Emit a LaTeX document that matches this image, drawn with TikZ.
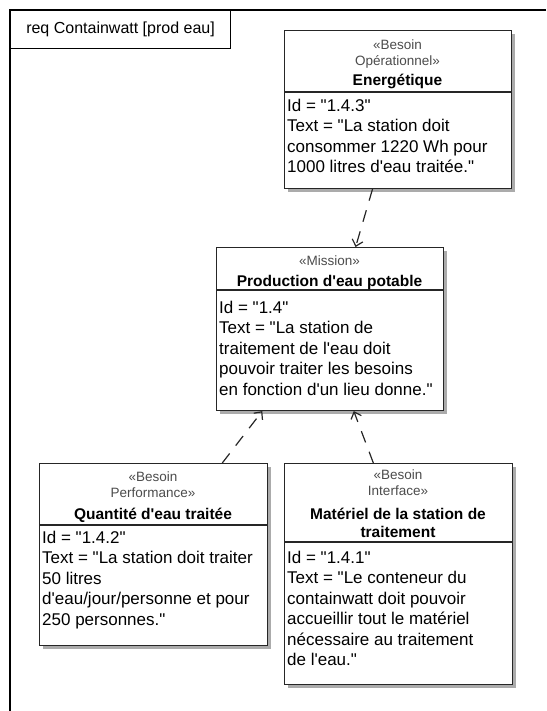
\documentclass[tikz,border=0pt]{standalone}
\usepackage{fontspec}
\newfontfamily\arial{Liberation Sans}
\usetikzlibrary{arrows.meta,shadows,calc}
\begin{document}
\begin{tikzpicture}[x=1pt,y=-1pt,
  font=\arial,
  frameline/.style={line width=1.4pt, black},
  boxpart/.style={draw=black!85, line width=1.1pt, fill=white, inner sep=0pt, anchor=north west},
  shadowed/.style={drop shadow={shadow xshift=3pt, shadow yshift=-3pt, opacity=0.6, fill=black!55}},
  sepline/.style={draw=black!85, line width=1.1pt},
  stereo/.style={inner sep=0pt, text=black!70, font=\arial\fontsize{13.5}{15}\selectfont},
  cname/.style={inner sep=0pt, font=\arial\bfseries\fontsize{15.5}{18}\selectfont},
  bodytext/.style={align=left, anchor=north west, inner sep=0pt, font=\arial\fontsize{17}{20.4}\selectfont},
  deriv/.style={draw=black!85, line width=1.2pt, dash pattern=on 12pt off 10pt, -{Straight Barb[length=6pt,width=11pt,line width=1.2pt]}}
]
\useasboundingbox (0,0) rectangle (546,711);
\fill[white] (0,0) rectangle (546,711);

% frame
\draw[frameline] (546,10) -- (10,10) -- (10,711);
\node[draw=black, line width=1.1pt, anchor=north west, minimum width=220pt, minimum height=38pt, inner sep=0pt,
      font=\arial\fontsize{16}{19}\selectfont] (tab) at (10,10) {req Containwatt [prod eau]};

% Energetique
\node[boxpart, shadowed, minimum width=227pt, minimum height=158pt] (eBox) at (284,30) {};
\draw[sepline] (284,92) -- (511,92);
\node[stereo] (eS1) at (397.5,45) {«Besoin};
\node[stereo] (eS2) at (397.5,62) {Opérationnel»};
\node[cname] (eN) at (397.5,81) {Energétique};
\node[bodytext] (eT) at (287,99) {Id = "1.4.3"\\Text = "La station doit\\consommer 1220 Wh pour\\1000 litres d'eau traitée."};

% Mission
\node[boxpart, shadowed, minimum width=227pt, minimum height=163pt] (mBox) at (216,247) {};
\draw[sepline] (216,290) -- (443,290);
\node[stereo] (mS1) at (329.5,261) {«Mission»};
\node[cname] (mN) at (329.5,282) {Production d'eau potable};
\node[bodytext] (mT) at (219,301) {Id = "1.4"\\Text = "La station de\\traitement de l'eau doit\\pouvoir traiter les besoins\\en fonction d'un lieu donne."};

% Quantite
\node[boxpart, shadowed, minimum width=228pt, minimum height=182pt] (qBox) at (39,463) {};
\draw[sepline] (39,525) -- (267,525);
\node[stereo] (qS1) at (153,477) {«Besoin};
\node[stereo] (qS2) at (153,493) {Performance»};
\node[cname] (qN) at (153,515) {Quantité d'eau traitée};
\node[bodytext] (qT) at (42,531) {Id = "1.4.2"\\Text = "La station doit traiter\\50 litres\\d'eau/jour/personne et pour\\250 personnes."};

% Materiel
\node[boxpart, shadowed, minimum width=228pt, minimum height=221pt] (tBox) at (284,463) {};
\draw[sepline] (284,542) -- (512,542);
\node[stereo] (tS1) at (398,475) {«Besoin};
\node[stereo] (tS2) at (398,491) {Interface»};
\node[cname] (tN1) at (398,514) {Matériel de la station de};
\node[cname] (tN2) at (398,532) {traitement};
\node[bodytext] (tT) at (287,551) {Id = "1.4.1"\\Text = "Le conteneur du\\containwatt doit pouvoir\\accueillir tout le matériel\\nécessaire au traitement\\de l'eau."};

% connectors
\draw[deriv] ($(eBox.south west)!0.388!(eBox.south east)$) -- ($(mBox.north west)!0.612!(mBox.north east)$);
\draw[deriv] ($(qBox.north west)!0.80!(qBox.north east)$) -- ($(mBox.south west)!0.203!(mBox.south east)$);
\draw[deriv] ($(tBox.north west)!0.39!(tBox.north east)$) -- ($(mBox.south west)!0.604!(mBox.south east)$);
\end{tikzpicture}
\end{document}
